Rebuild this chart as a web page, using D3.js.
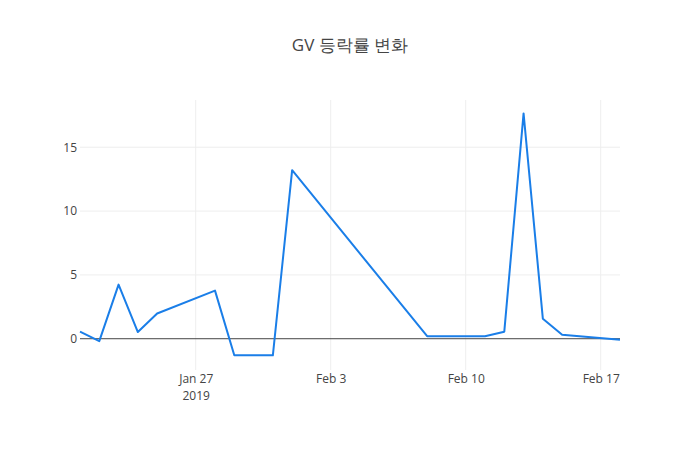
<!DOCTYPE html>
<html>
<head>
<meta charset="utf-8">
<script src="https://cdn.jsdelivr.net/npm/d3@7"></script>
<style>
  body { margin: 0; background: #fff; }
  text { font-family: "Open Sans", sans-serif; }
</style>
</head>
<body>
<div id="container"></div>
<script>
const WIDTH = 700;
const HEIGHT = 450;
const MARGIN = { TOP: 100, BOTTOM: 80, LEFT: 80, RIGHT: 80 };

const width = WIDTH - MARGIN.LEFT - MARGIN.RIGHT;
const height = HEIGHT - MARGIN.TOP - MARGIN.BOTTOM;

const TITLE = 'GV 등락률 변화';
const dates = ['2019-01-21', '2019-01-22', '2019-01-23', '2019-01-24', '2019-01-25',
               '2019-01-28', '2019-01-29', '2019-01-31', '2019-02-01', '2019-02-08',
               '2019-02-11', '2019-02-12', '2019-02-13', '2019-02-14', '2019-02-15',
               '2019-02-18'];
const changes = [0.55, -0.19, 4.24, 0.52, 1.98,
                 3.77, -1.3, -1.3, 13.2, 0.2,
                 0.2, 0.55, 17.65, 1.56, 0.31,
                 -0.08];
const yTicks = [0, 5, 10, 15];
const xTicks = ['2019-01-27', '2019-02-03', '2019-02-10', '2019-02-17'];

const parse = d3.utcParse('%Y-%m-%d');
const data = dates.map((d, i) => ({ date: parse(d), value: changes[i] }));

const svg = d3.select('#container')
              .append('svg')
                .attr('width', WIDTH)
                .attr('height', HEIGHT);

svg.append('text')
     .attr('x', WIDTH / 2)
     .attr('y', 51)
     .attr('text-anchor', 'middle')
     .attr('fill', '#444')
     .style('font-size', '17px')
     .text(TITLE);

const container = svg.append('g')
                       .attr('transform', `translate(${MARGIN.LEFT}, ${MARGIN.TOP})`);

const xscale = d3.scaleUtc()
                 .domain(d3.extent(data, d => d.date))
                 .range([0, width]);

const yscale = d3.scaleLinear()
                 .domain([-2.45, 18.7])
                 .range([height, 0]);

// grid
container.selectAll('.xgrid')
         .data(xTicks.map(parse))
         .enter()
         .append('line')
           .attr('x1', d => xscale(d))
           .attr('x2', d => xscale(d))
           .attr('y1', 0)
           .attr('y2', height)
           .attr('stroke', '#eee')
           .attr('stroke-width', 1);

container.selectAll('.ygrid')
         .data(yTicks.filter(t => t !== 0))
         .enter()
         .append('line')
           .attr('x1', 0)
           .attr('x2', width)
           .attr('y1', d => yscale(d))
           .attr('y2', d => yscale(d))
           .attr('stroke', '#eee')
           .attr('stroke-width', 1);

// zero line
container.append('line')
         .attr('x1', 0)
         .attr('x2', width)
         .attr('y1', yscale(0))
         .attr('y2', yscale(0))
         .attr('stroke', '#444')
         .attr('stroke-width', 1);

// axes
const axisLeft = d3.axisLeft(yscale)
                   .tickValues(yTicks)
                   .tickSize(0)
                   .tickPadding(3);

const fmt = d3.utcFormat('%b %-d');
const axisBottom = d3.axisBottom(xscale)
                     .tickValues(xTicks.map(parse))
                     .tickSize(0)
                     .tickPadding(4)
                     .tickFormat(fmt);

const gy = container.append('g').call(axisLeft);
const gx = container.append('g')
                    .attr('transform', `translate(0, ${height})`)
                    .call(axisBottom);

[gx, gy].forEach(g => {
    g.select('.domain').remove();
    g.selectAll('text')
     .attr('fill', '#444')
     .style('font-size', '12px')
     .style('font-family', '"Open Sans", sans-serif');
});

// year under the first date label
gx.selectAll('.tick')
  .filter((d, i) => i === 0)
  .append('text')
    .attr('y', 21)
    .attr('dy', '0.71em')
    .attr('text-anchor', 'middle')
    .attr('fill', '#444')
    .style('font-size', '12px')
    .text('2019');

// line
const line = d3.line()
               .x(d => xscale(d.date))
               .y(d => yscale(d.value));

container.append('path')
         .datum(data)
         .attr('d', line)
         .attr('fill', 'none')
         .attr('stroke', '#1a7ee8')
         .attr('stroke-width', 2)
         .attr('stroke-linejoin', 'round');
</script>
</body>
</html>
